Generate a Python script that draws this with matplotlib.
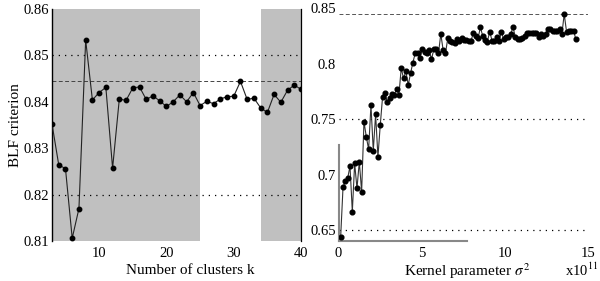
import numpy as np
import matplotlib
matplotlib.use("Agg")
import matplotlib.pyplot as plt

plt.rcParams['font.family'] = ['Liberation Serif', 'DejaVu Serif']
plt.rcParams['mathtext.fontset'] = 'stix'

# ---- left panel data: BLF criterion vs number of clusters k ----
k_values = list(range(3, 41))
blf_k = [0.8352, 0.8264, 0.8256, 0.8106, 0.8170, 0.8533, 0.8404, 0.8420, 0.8431, 0.8257,
         0.8406, 0.8403, 0.8430, 0.8432, 0.8405, 0.8413, 0.8402, 0.8390, 0.8400, 0.8415,
         0.8400, 0.8420, 0.8392, 0.8401, 0.8396, 0.8406, 0.8411, 0.8412, 0.8444, 0.8405,
         0.8408, 0.8387, 0.8377, 0.8416, 0.8399, 0.8425, 0.8436, 0.8427]
shaded_k_ranges = [(3, 25), (34, 40)]
left_yticks = [0.81, 0.82, 0.83, 0.84, 0.85, 0.86]
left_xticks = [10, 20, 30, 40]
left_dotted = [0.85, 0.82]
best_blf = 0.8445

# ---- right panel data: BLF criterion vs kernel parameter sigma^2 (x1e11) ----
blf_sigma = [0.6440, 0.6884, 0.6944, 0.6965, 0.7076, 0.6665, 0.7100, 0.6875, 0.7115, 0.6845,
             0.7476, 0.7341, 0.7226, 0.7626, 0.7214, 0.7542, 0.7160, 0.7446, 0.7701, 0.7737,
             0.7652, 0.7692, 0.7728,
             0.7716, 0.7770, 0.7716, 0.7957, 0.7866, 0.7932, 0.7806, 0.7911, 0.8008, 0.8092,
             0.8098, 0.8047, 0.8128, 0.8107, 0.8092, 0.8122, 0.8038, 0.8128, 0.8131, 0.8092,
             0.8266, 0.8122, 0.8092, 0.8227, 0.8206, 0.8197, 0.8182, 0.8218, 0.8206, 0.8227,
             0.8212, 0.8212, 0.8206, 0.8206, 0.8278, 0.8248, 0.8227, 0.8326, 0.8248, 0.8212,
             0.8197, 0.8287, 0.8206, 0.8206, 0.8242, 0.8206, 0.8287, 0.8218, 0.8242, 0.8242,
             0.8266, 0.8326, 0.8242, 0.8218, 0.8218, 0.8227, 0.8248, 0.8278, 0.8278, 0.8278,
             0.8278, 0.8278, 0.8242, 0.8266, 0.8248, 0.8266, 0.8308, 0.8308, 0.8296, 0.8296,
             0.8296, 0.8308, 0.8266, 0.8445, 0.8287, 0.8296, 0.8296, 0.8296, 0.8218]
sigma_step = 0.14  # sampling grid step in units of 1e11
sigma2 = sigma_step * np.arange(1, len(blf_sigma) + 1) - 0.01
right_yticks = [0.65, 0.7, 0.75, 0.8, 0.85]
right_ytick_labels = ['0.65', '0.7', '0.75', '0.8', '0.85']
right_xticks = [0, 5, 10, 15]
right_dotted = [0.75, 0.65]

W, H = 600, 281
fig = plt.figure(figsize=(W / 100, H / 100), dpi=100)

# ---------------- left axes ----------------
axL = fig.add_axes([0.0867, 0.1423, 0.415, 0.8256])
for a, b in shaded_k_ranges:
    axL.axvspan(a, b, color='#c0c0c0', lw=0, zorder=0)
for yv in left_dotted:
    axL.axhline(yv, color='black', lw=0.9, ls=(0, (1, 4)), zorder=1)
axL.axhline(best_blf, color='#444444', lw=0.7, ls=(0, (4, 2.5)), zorder=1)
axL.plot(k_values, blf_k, color='#222222', lw=0.8, marker='o', ms=3.2,
         mfc='black', mec='black', zorder=3)
axL.set_xlim(3, 40)
axL.set_ylim(0.81, 0.86)
axL.set_yticks(left_yticks)
axL.set_yticklabels([f'{v:.2f}' for v in left_yticks])
axL.set_xticks(left_xticks)
axL.tick_params(axis='both', length=0, labelsize=10.5, colors='black')
axL.tick_params(axis='y', pad=2)
axL.tick_params(axis='x', pad=4)
axL.spines['top'].set_visible(False)
axL.spines['bottom'].set_visible(False)
axL.spines['left'].set_color('black')
axL.spines['right'].set_color('black')
axL.spines['left'].set_linewidth(1.0)
axL.spines['right'].set_linewidth(0.9)
axL.set_ylabel('BLF criterion', fontsize=11, labelpad=1)
axL.patch.set_alpha(0)
fig.text(190 / W, 1 - 270 / H, 'Number of clusters k', ha='center', va='center', fontsize=11)

# ---------------- right axes ----------------
axR = fig.add_axes([0.5642, 0.142, 0.4158, 0.8295])
for yv in right_dotted:
    axR.axhline(yv, color='black', lw=0.9, ls=(0, (1, 4)), zorder=1)
axR.axhline(max(blf_sigma), color='#555555', lw=0.7, ls=(0, (4, 2.5)), zorder=1)
axR.plot(sigma2, blf_sigma, color='#333333', lw=0.8, marker='o', ms=3.4,
         mfc='black', mec='black', zorder=3)
axR.set_xlim(0, 15)
axR.set_ylim(0.64, 0.85)
axR.set_yticks(right_yticks)
axR.set_yticklabels(right_ytick_labels)
axR.set_xticks(right_xticks)
axR.tick_params(axis='both', length=0, labelsize=10.5, colors='black')
axR.tick_params(axis='y', pad=2)
axR.tick_params(axis='x', pad=4)
axR.set_xticks([5], minor=True)
axR.tick_params(axis='x', which='minor', length=3, direction='in', color='#888888', width=1.2)
axR.spines['top'].set_visible(False)
axR.spines['right'].set_visible(False)
axR.spines['left'].set_color('#888888')
axR.spines['bottom'].set_color('#888888')
axR.spines['left'].set_linewidth(1.5)
axR.spines['bottom'].set_linewidth(1.5)
axR.spines['left'].set_bounds(0.64, 0.727)
axR.spines['bottom'].set_bounds(0, 7.75)
axR.patch.set_alpha(0)
fig.text(467 / W, 1 - 271 / H, r'Kernel parameter $\sigma^{\,2}$', ha='center', va='center',
         fontsize=11)
fig.text(598 / W, 1 - 276 / H, r'x10$^{11}$', ha='right', va='baseline', fontsize=10.5)

fig.savefig('out.png', dpi=100)
